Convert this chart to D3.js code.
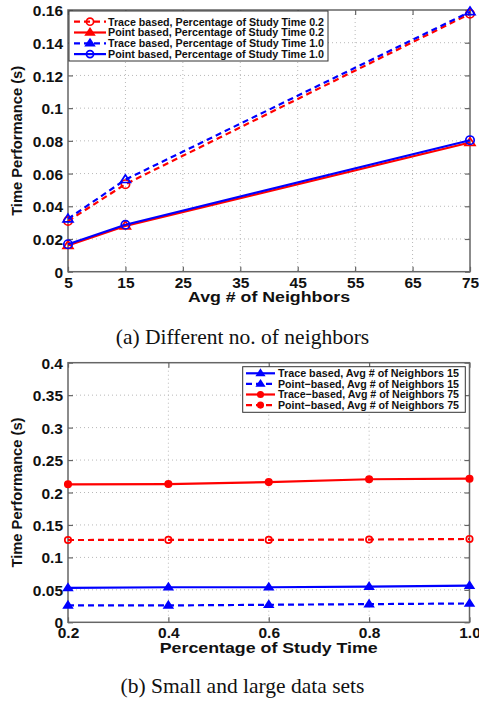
<!DOCTYPE html>
<html><head><meta charset="utf-8">
<script src="https://cdn.jsdelivr.net/npm/d3@7"></script>
<style>
html,body{margin:0;padding:0;background:#fff;}
svg{display:block;}
text{font-family:"Liberation Sans",Arial,sans-serif;font-weight:bold;fill:#111;}
.cap{font-family:"Liberation Serif","Times New Roman",serif;font-weight:normal;}
</style></head>
<body><svg id="c" width="479" height="704"></svg>
<script>
// ---- Data: panel (a) ----
const neighbors = [5, 15, 75];
const topXTicks = [5, 15, 25, 35, 45, 55, 65, 75];
const topYTicks = [0, 0.02, 0.04, 0.06, 0.08, 0.1, 0.12, 0.14, 0.16];
const tracePct02 = [0.031, 0.0535, 0.1577];
const pointPct02 = [0.016, 0.028, 0.079];
const tracePct10 = [0.0323, 0.0563, 0.1589];
const pointPct10 = [0.0168, 0.0287, 0.0804];
const topLegend = [
  "Trace based, Percentage of Study Time 0.2",
  "Point based, Percentage of Study Time 0.2",
  "Trace based, Percentage of Study Time 1.0",
  "Point based, Percentage of Study Time 1.0"
];
// ---- Data: panel (b) ----
const studyTime = [0.2, 0.4, 0.6, 0.8, 1.0];
const botXTicks = [0.2, 0.4, 0.6, 0.8, 1.0];
const botYTicks = [0, 0.05, 0.1, 0.15, 0.2, 0.25, 0.3, 0.35, 0.4];
const traceNb15 = [0.053, 0.054, 0.054, 0.055, 0.0564];
const pointNb15 = [0.026, 0.026, 0.027, 0.028, 0.029];
const traceNb75 = [0.2126, 0.213, 0.216, 0.2204, 0.2213];
const pointNb75 = [0.1268, 0.127, 0.127, 0.1275, 0.1284];
const botLegend = [
  "Trace based, Avg # of Neighbors 15",
  "Point\u2212based, Avg # of Neighbors 15",
  "Trace\u2212based, Avg # of Neighbors 75",
  "Point\u2212based, Avg # of Neighbors 75"
];

const RED = "#ff0000", BLUE = "#0000ff";
const svg = d3.select("#c");

function fmt(v){ return (Math.round(v*1000)/1000).toString(); }

function drawMarker(g, type, x, y, color, filled, size){
  if(type === "circle"){
    g.append("circle").attr("cx", x).attr("cy", y).attr("r", size)
      .attr("fill", filled ? color : "none").attr("stroke", color).attr("stroke-width", 1.7);
  } else {
    const h = size*1.7, w = size*2.2;
    g.append("path").attr("d", `M${x},${y-h*0.62}L${x+w/2},${y+h*0.38}L${x-w/2},${y+h*0.38}Z`)
      .attr("fill", filled ? color : "none").attr("stroke", color).attr("stroke-width", 1.7)
      .attr("stroke-linejoin", "miter");
  }
}

function panel(o){
  const g = svg.append("g");
  const x = d3.scaleLinear().domain(o.xDomain).range([o.left, o.right]);
  const y = d3.scaleLinear().domain(o.yDomain).range([o.bottom, o.top]);
  // grid
  g.append("g").selectAll("line").data(o.xTicks.slice(1, -1)).join("line")
    .attr("x1", d => x(d)).attr("x2", d => x(d)).attr("y1", o.top).attr("y2", o.bottom)
    .attr("stroke", "#b8b8b8").attr("stroke-width", 1).attr("stroke-dasharray", "1,3");
  g.append("g").selectAll("line").data(o.yTicks.slice(1, -1)).join("line")
    .attr("y1", d => y(d)).attr("y2", d => y(d)).attr("x1", o.left).attr("x2", o.right)
    .attr("stroke", "#b8b8b8").attr("stroke-width", 1).attr("stroke-dasharray", "1,3");
  // axes via d3
  const ax = g.append("g").attr("transform", `translate(0,${o.bottom})`)
    .call(d3.axisBottom(x).tickValues(o.xTicks).tickSize(-5).tickPadding(5).tickFormat(o.xFmt));
  const ay = g.append("g").attr("transform", `translate(${o.left},0)`)
    .call(d3.axisLeft(y).tickValues(o.yTicks).tickSize(-5).tickPadding(5).tickFormat(fmt));
  const axT = g.append("g").attr("transform", `translate(0,${o.top})`)
    .call(d3.axisTop(x).tickValues(o.xTicks).tickSize(-5).tickFormat(""));
  const ayR = g.append("g").attr("transform", `translate(${o.right},0)`)
    .call(d3.axisRight(y).tickValues(o.yTicks).tickSize(-5).tickFormat(""));
  [ax, ay, axT, ayR].forEach(a => {
    a.select(".domain").remove();
    a.selectAll(".tick line").attr("stroke", "#666").attr("stroke-width", 1.2);
    a.selectAll("text").attr("font-size", 15.5).attr("fill", "#111")
      .style("font-family", '"Liberation Sans",Arial,sans-serif').style("font-weight", "bold");
  });
  ax.selectAll("text").attr("dy", "0.72em");
  ay.selectAll("text").attr("dy", "0.36em");
  // frame
  g.append("rect").attr("x", o.left).attr("y", o.top).attr("width", o.right - o.left)
    .attr("height", o.bottom - o.top).attr("fill", "none").attr("stroke", "#666").attr("stroke-width", 1.5);
  // series
  o.series.forEach(s => {
    const line = d3.line().x((d, i) => x(o.xs[i])).y(d => y(d));
    g.append("path").datum(s.values).attr("d", line).attr("fill", "none")
      .attr("stroke", s.color).attr("stroke-width", 2.2)
      .attr("stroke-dasharray", s.dash ? "6,4" : null);
    const mg = g.append("g");
    s.values.forEach((v, i) => drawMarker(mg, s.marker, x(o.xs[i]), y(v), s.color, s.filled, s.msize));
  });
  // titles
  g.append("text").attr("x", (o.left + o.right)/2).attr("y", o.xTitleY).attr("text-anchor", "middle")
    .attr("font-size", 14).attr("textLength", o.xTitleLen).attr("lengthAdjust", "spacingAndGlyphs").text(o.xTitle);
  g.append("text").attr("transform", `translate(${o.yTitleX},${(o.top + o.bottom)/2}) rotate(-90)`)
    .attr("text-anchor", "middle").attr("font-size", 15).attr("textLength", 150)
    .attr("lengthAdjust", "spacingAndGlyphs").text(o.yTitle);
  // legend
  const L = o.legend;
  const lg = g.append("g");
  lg.append("rect").attr("x", L.x).attr("y", L.y).attr("width", L.w).attr("height", L.h)
    .attr("fill", "#fff").attr("stroke", "#333").attr("stroke-width", 1);
  o.series.forEach((s, i) => {
    const yy = L.y + L.row0 + i*L.step;
    lg.append("line").attr("x1", L.lx1).attr("x2", L.lx2).attr("y1", yy).attr("y2", yy)
      .attr("stroke", s.color).attr("stroke-width", 2.2).attr("stroke-dasharray", s.dash ? "6,4" : null);
    drawMarker(lg, s.marker, (L.lx1 + L.lx2)/2, yy, s.color, s.legFilled, s.msize*0.85);
    lg.append("text").attr("x", L.tx).attr("y", yy).attr("dy", "0.36em").attr("font-size", 11)
      .attr("textLength", L.tlen[i]).attr("lengthAdjust", "spacingAndGlyphs").text(o.legendText[i]);
  });
  // caption
  svg.append("text").attr("class", "cap").attr("x", 242.5).attr("y", o.capY).attr("text-anchor", "middle")
    .attr("font-size", 21.5).text(o.caption);
}

panel({
  xDomain: [5, 75], yDomain: [0, 0.16], left: 68, right: 470, top: 10, bottom: 271.7,
  xs: neighbors, xTicks: topXTicks, yTicks: topYTicks, xFmt: d => d,
  series: [
    {values: tracePct02, color: RED, dash: true, marker: "circle", filled: false, legFilled: false, msize: 4.2},
    {values: pointPct02, color: RED, dash: false, marker: "tri", filled: false, legFilled: true, msize: 4.5},
    {values: tracePct10, color: BLUE, dash: true, marker: "tri", filled: false, legFilled: true, msize: 4.5},
    {values: pointPct10, color: BLUE, dash: false, marker: "circle", filled: false, legFilled: false, msize: 4.2}
  ],
  legendText: topLegend,
  legend: {x: 69, y: 11, w: 259, h: 50, row0: 10.7, step: 10.8, lx1: 74, lx2: 106, tx: 108,
           tlen: [216, 216, 216, 216]},
  xTitle: "Avg # of Neighbors", xTitleY: 301.5, xTitleLen: 162,
  yTitle: "Time Performance (s)", yTitleX: 22,
  caption: "(a) Different no. of neighbors", capY: 344
});

panel({
  xDomain: [0.2, 1.0], yDomain: [0, 0.4], left: 68, right: 469.5, top: 362.7, bottom: 622.3,
  xs: studyTime, xTicks: botXTicks, yTicks: botYTicks, xFmt: d => d.toFixed(1),
  series: [
    {values: traceNb15, color: BLUE, dash: false, marker: "tri", filled: true, legFilled: true, msize: 3.8},
    {values: pointNb15, color: BLUE, dash: true, marker: "tri", filled: true, legFilled: true, msize: 3.8},
    {values: traceNb75, color: RED, dash: false, marker: "circle", filled: true, legFilled: true, msize: 3.2},
    {values: pointNb75, color: RED, dash: true, marker: "circle", filled: false, legFilled: true, msize: 3.2}
  ],
  legendText: botLegend,
  legend: {x: 242.7, y: 366.7, w: 222.6, h: 45.6, row0: 6.6, step: 10.6, lx1: 246, lx2: 275, tx: 278,
           tlen: [181, 181, 181, 181]},
  xTitle: "Percentage of Study Time", xTitleY: 653, xTitleLen: 218,
  yTitle: "Time Performance (s)", yTitleX: 22,
  caption: "(b) Small and large data sets", capY: 693
});
</script></body></html>
